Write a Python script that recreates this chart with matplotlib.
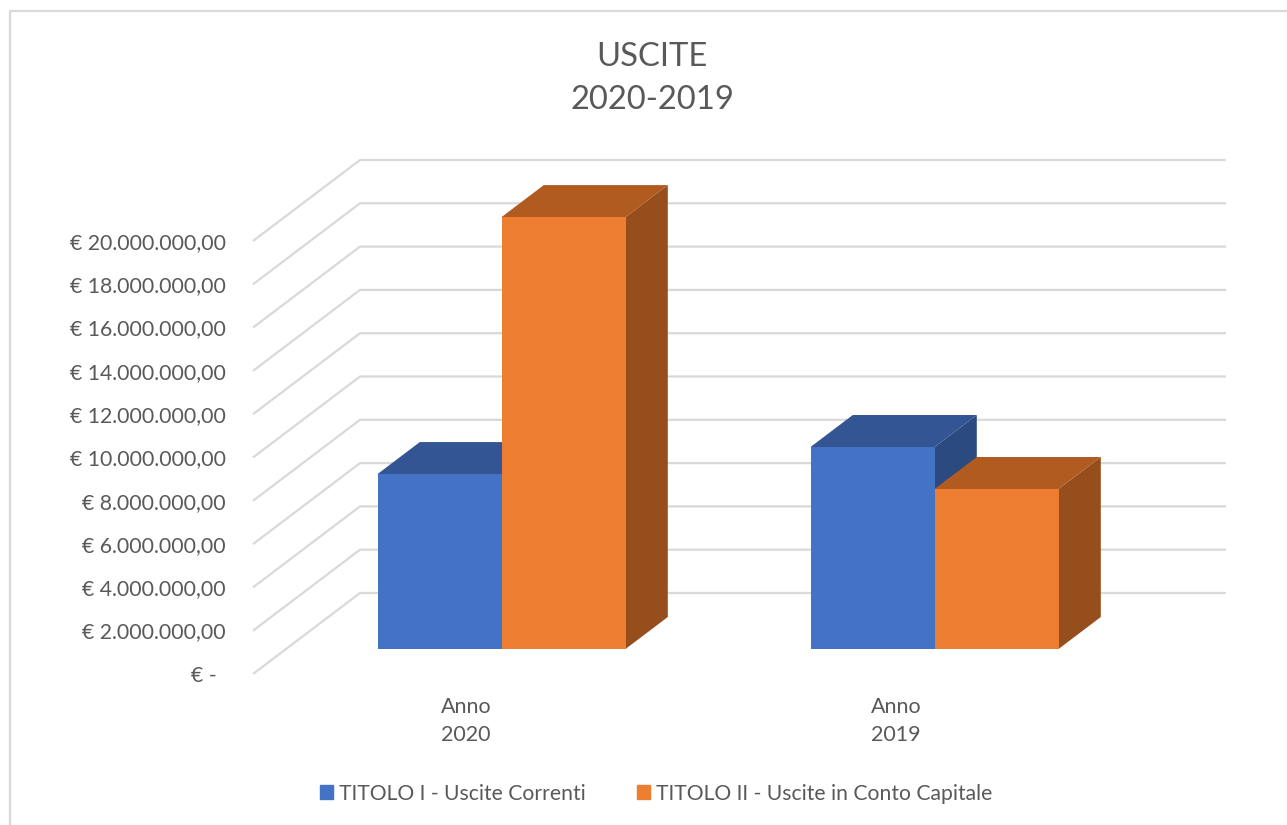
import matplotlib
matplotlib.use("Agg")
import matplotlib.pyplot as plt
from matplotlib.patches import Patch, Polygon, Rectangle

plt.rcParams["font.family"] = ["Lato", "DejaVu Sans"]

# Dati
anni = ["Anno\n2020", "Anno\n2019"]
uscite_correnti = [8080000, 9330000]
uscite_capitale = [19950000, 7390000]
serie = ["TITOLO I - Uscite Correnti", "TITOLO II - Uscite in Conto Capitale"]
tick_valori = [0, 2000000, 4000000, 6000000, 8000000, 10000000,
               12000000, 14000000, 16000000, 18000000, 20000000]
tick_etichette = ["€ -", "€ 2.000.000,00", "€ 4.000.000,00", "€ 6.000.000,00",
                  "€ 8.000.000,00", "€ 10.000.000,00", "€ 12.000.000,00",
                  "€ 14.000.000,00", "€ 16.000.000,00", "€ 18.000.000,00",
                  "€ 20.000.000,00"]

GRIGIO = "#D9D9D9"
TESTO = "#595959"
BLU = ("#4472C4", "#335593", "#2A4A80")
ARANCIO = ("#ED7D31", "#B25B20", "#964E1C")

# scala: 1 categoria = 433 px, 2M euro = 43.3 px
PX_X = 433.0
PX_Y = 43.3 / 2000000
W, H = 1287, 825
DX = 107 / PX_X
DY = 81 / PX_Y
D1, D2 = 25 / 81, 57 / 81
BAR = 124 / PX_X

fig = plt.figure(figsize=(W / 100, H / 100), dpi=100)
ax = fig.add_axes([0, 0, 1, 1])
ax.set_xlim(-469.5 / PX_X, (W - 469.5) / PX_X)
ax.set_ylim(-(H - 674) / PX_Y, 674 / PX_Y)
ax.axis("off")


def proj(x, v, d):
    return x + DX * d, v + DY * d


# griglia: diagonale sul pavimento e linea sulla parete di fondo
for v in tick_valori:
    p0 = proj(-0.5, v, 0)
    p1 = proj(-0.5, v, 1)
    p2 = proj(1.5, v, 1)
    ax.plot([p0[0], p1[0], p2[0]], [p0[1], p1[1], p2[1]], color=GRIGIO, lw=1.6,
            solid_joinstyle="miter", solid_capstyle="butt", zorder=1)


def barra(x0, v, colori, z):
    x1 = x0 + BAR
    ax.add_patch(Polygon([proj(x1, 0, D1), proj(x1, 0, D2), proj(x1, v, D2), proj(x1, v, D1)],
                         fc=colori[2], ec="none", zorder=z))
    ax.add_patch(Polygon([proj(x0, v, D1), proj(x1, v, D1), proj(x1, v, D2), proj(x0, v, D2)],
                         fc=colori[1], ec="none", zorder=z))
    a = proj(x0, 0, D1)
    ax.add_patch(Rectangle(a, BAR, v, fc=colori[0], ec="none", zorder=z))


SHIFT = -1 / PX_X
for i in range(len(anni)):
    barra(i - BAR + SHIFT, uscite_correnti[i], BLU, 2)
    barra(i + SHIFT, uscite_capitale[i], ARANCIO, 3)
    ax.text(i * 430 / PX_X - 3.5 / PX_X, -47 / PX_Y, anni[i], ha="center", va="center",
            fontsize=15.5, color=TESTO, linespacing=1.55)

for v, lab in zip(tick_valori, tick_etichette):
    xt = -0.5 - 27 / PX_X
    if v == 0:
        xt = -0.5 - 36 / PX_X
    ax.text(xt, v - 1.8 / PX_Y, lab, ha="right", va="center", fontsize=15.3, color=TESTO)

ax.text(182.5 / PX_X, 595.5 / PX_Y, "USCITE\n2020-2019", ha="center", va="center",
        fontsize=23.6, color=TESTO, linespacing=1.58)

# cornice del grafico
fig.add_artist(plt.Line2D([9.5 / W, 9.5 / W, 1], [0, 1 - 10.5 / H, 1 - 10.5 / H],
                          color=GRIGIO, lw=1.6))

handles = [Patch(color=BLU[0]), Patch(color=ARANCIO[0])]
ax.legend(handles, serie, loc="center", bbox_to_anchor=(656 / W, 1 - 793.5 / H), ncol=2,
          frameon=False, fontsize=15.2, labelcolor=TESTO, handlelength=0.62, handleheight=0.65,
          handletextpad=0.3, columnspacing=2.4)

fig.savefig("out.png", dpi=100)
